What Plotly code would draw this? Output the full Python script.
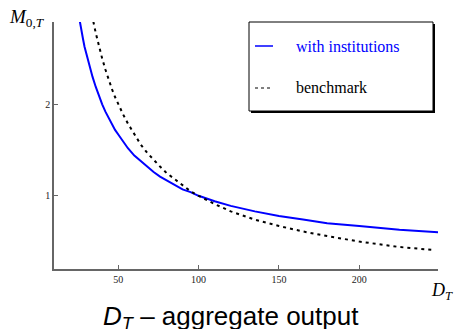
import plotly.graph_objects as go

# Data
D_inst = [24, 25, 26, 27, 28, 29, 30, 32, 34, 36, 38, 40, 42, 44, 46, 48, 50, 53, 56, 60, 64, 68,
          72, 76, 80, 85, 90, 95, 100, 110, 120, 135, 150, 165, 180, 200, 225, 250]
M_inst = [3.11, 3.00, 2.90, 2.80, 2.72, 2.63, 2.56, 2.42, 2.30, 2.19, 2.09, 2.00, 1.92, 1.85,
          1.78, 1.72, 1.67, 1.59, 1.52, 1.44, 1.38, 1.31, 1.26, 1.21, 1.17, 1.12, 1.07, 1.04,
          1.00, 0.94, 0.89, 0.83, 0.78, 0.74, 0.70, 0.67, 0.63, 0.60]
D_bench = [32, 33, 34, 35, 36, 38, 40, 42, 44, 46, 48, 50, 53, 56, 60, 64, 68, 72, 76, 80, 85,
           90, 95, 100, 110, 120, 135, 150, 165, 180, 200, 225, 245]
M_bench = [3.13, 3.03, 2.94, 2.86, 2.78, 2.63, 2.50, 2.38, 2.27, 2.17, 2.08, 2.00, 1.89, 1.79,
           1.67, 1.56, 1.47, 1.39, 1.32, 1.25, 1.18, 1.11, 1.05, 1.00, 0.91, 0.83, 0.74, 0.67,
           0.61, 0.56, 0.50, 0.44, 0.41]
x_ticks = [50, 100, 150, 200]
y_ticks = [1, 2]
series_names = ["with institutions", "benchmark"]
caption = "<i>D</i><sub><i>T</i></sub> – aggregate output"

W, H = 456, 329
L, R, T, B = 54, 18, 22, 60
pw, ph = W - L - R, H - T - B


def px(x):
    return (x - L) / pw


def py(y):
    return (H - B - y) / ph


fig = go.Figure()
fig.add_trace(go.Scatter(x=D_inst, y=M_inst, mode="lines", line=dict(color="#0000ff", width=2),
                         name=series_names[0], showlegend=False))
fig.add_trace(go.Scatter(x=D_bench, y=M_bench, mode="lines",
                         line=dict(color="black", width=2, dash="3px,4px"),
                         name=series_names[1], showlegend=False))

serif = "Liberation Serif, Times New Roman, serif"
axis_common = dict(showline=True, linecolor="#666", linewidth=1.5, ticks="inside", ticklen=4,
                   tickcolor="#666", tickwidth=1, showgrid=False, zeroline=False,
                   tickfont=dict(family=serif, size=10, color="#222"))
fig.update_xaxes(range=[10, 249], tickvals=x_ticks, **axis_common)
fig.update_yaxes(range=[0.2, 2.9], tickvals=y_ticks, **axis_common)

shapes = [
    dict(type="rect", xref="paper", yref="paper", x0=px(251), x1=px(435), y0=py(113), y1=py(24),
         fillcolor="black", line=dict(width=0)),
    dict(type="rect", xref="paper", yref="paper", x0=px(249), x1=px(433), y0=py(111), y1=py(22),
         fillcolor="white", line=dict(color="black", width=1)),
    dict(type="line", xref="paper", yref="paper", x0=px(255), x1=px(273), y0=py(46), y1=py(46),
         line=dict(color="#0000ff", width=1.5)),
    dict(type="line", xref="paper", yref="paper", x0=px(255), x1=px(271), y0=py(88), y1=py(88),
         line=dict(color="black", width=1, dash="dot")),
]

annotations = [
    dict(text=series_names[0], xref="paper", yref="paper", x=px(294), y=py(46), xanchor="left",
         yanchor="middle", showarrow=False, font=dict(family=serif, size=16, color="#0000ff")),
    dict(text=series_names[1], xref="paper", yref="paper", x=px(294), y=py(88), xanchor="left",
         yanchor="middle", showarrow=False, font=dict(family=serif, size=16, color="black")),
    dict(text="<i>M</i><sub>0,<i>T</i></sub>", xref="paper", yref="paper", x=px(27), y=py(18),
         xanchor="center", yanchor="middle", showarrow=False, font=dict(family=serif, size=19, color="black")),
    dict(text="<i>D</i><sub><i>T</i></sub>", xref="paper", yref="paper", x=px(442), y=py(291),
         xanchor="center", yanchor="middle", showarrow=False, font=dict(family=serif, size=18, color="black")),
    dict(text=caption, xref="paper", yref="paper", x=px(231), y=py(317),
         xanchor="center", yanchor="middle", showarrow=False,
         font=dict(family="Liberation Sans, Arial, sans-serif", size=26, color="black")),
]

fig.update_layout(width=W, height=H, margin=dict(l=L, r=R, t=T, b=B), plot_bgcolor="white",
                  paper_bgcolor="white", shapes=shapes, annotations=annotations, showlegend=False)

fig.write_html("out.html", config={"displayModeBar": False},
               post_script="document.body.style.margin='0';document.body.style.overflow='hidden';")
